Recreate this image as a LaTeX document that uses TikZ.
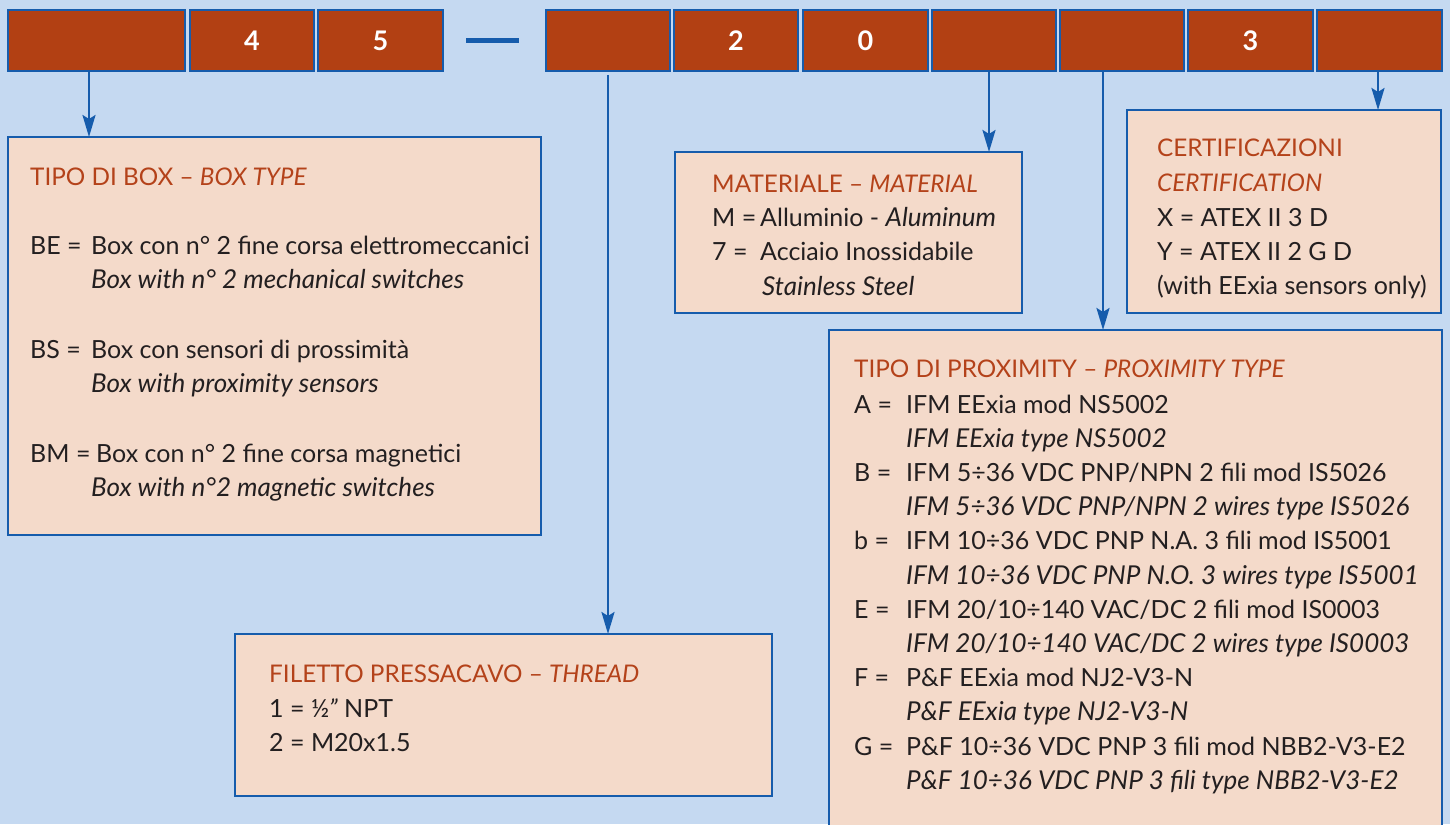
\documentclass[tikz,border=0pt]{standalone}
\usepackage{fontspec}
\setmainfont{Lato}
\usetikzlibrary{arrows.meta}
\definecolor{bg}{RGB}{197,217,241}
\definecolor{rust}{RGB}{178,64,19}
\definecolor{bord}{RGB}{22,92,172}
\definecolor{peach}{RGB}{244,218,202}
\definecolor{ttlc}{RGB}{180,66,26}
\definecolor{ink}{RGB}{35,31,32}
\begin{document}
\begin{tikzpicture}[x=1pt,y=-1pt,
  codebox/.style={draw=bord,line width=2.8pt,fill=rust,outer sep=0pt,inner sep=0pt,minimum height=61pt,anchor=north west,text=white,font=\fontsize{27}{27}\selectfont\bfseries},
  panel/.style={draw=bord,line width=2.6pt,fill=peach,outer sep=0pt,inner sep=0pt,anchor=north west},
  ttl/.style={anchor=base west,inner sep=0pt,text=ttlc,font=\fontsize{24.3}{25}\selectfont},
  txt/.style={anchor=base west,inner sep=0pt,text=ink,font=\fontsize{25}{25}\selectfont},
  itx/.style={anchor=base west,inner sep=0pt,text=ink,font=\fontsize{26}{26}\selectfont\itshape},
  conn/.style={draw=bord,line width=2.5pt,-{Stealth[length=22pt,width=13pt,inset=4pt]}}
]
\clip (0,0) rectangle (1450,824);
\fill[bg] (0,0) rectangle (1450,824);
% code boxes
\node[codebox,minimum width=177pt] (c1) at (8,10) {};
\node[codebox,minimum width=124pt] (c2) at (190,10) {4};
\node[codebox,minimum width=125pt] (c3) at (318,10) {5};
\node[codebox,minimum width=124pt] (c4) at (546,10) {};
\node[codebox,minimum width=124pt] (c5) at (674,10) {2};
\node[codebox,minimum width=125pt] (c6) at (803,10) {0};
\node[codebox,minimum width=124pt] (c7) at (932,10) {};
\node[codebox,minimum width=124pt] (c8) at (1060,10) {};
\node[codebox,minimum width=125pt] (c9) at (1188,10) {3};
\node[codebox,minimum width=125pt] (c10) at (1317,10) {};
\coordinate (d1) at (466,40.5);
\coordinate (d2) at (519,40.5);
\draw[bord,line width=5pt] (d1) -- (d2);
% panels
\node[panel,minimum width=533pt,minimum height=398pt] (boxtype) at (8,137) {};
\node[panel,minimum width=347pt,minimum height=161pt] (material) at (675,152) {};
\node[panel,minimum width=314pt,minimum height=203pt] (cert) at (1127,110) {};
\node[panel,minimum width=537pt,minimum height=162pt] (thread) at (235,634) {};
\node[panel,minimum width=613pt,minimum height=520pt] (prox) at (829,330) {};
% connectors
\draw[conn] ([xshift=-7.5pt]c1.south) -- ([xshift=-7.5pt]c1.south |- boxtype.north);
\draw[conn] ([yshift=-4pt]c4.south) -- (c4.south |- thread.north);
\draw[conn] ([xshift=-5pt]c7.south) -- ([xshift=-5pt]c7.south |- material.north);
\draw[conn] ([xshift=-19pt]c8.south) -- ([xshift=-19pt]c8.south |- prox.north);
\draw[conn] ([xshift=-1.5pt]c10.south) -- ([xshift=-1.5pt]c10.south |- cert.north);
% box type
\node[ttl] (bt0) at (30,185) {TIPO DI BOX – \textit{BOX TYPE}};
\node[txt] (bt1a) at (30,254) {BE =};
\node[txt] (bt1b) at (91,254) {Box con n° 2 fine corsa elettromeccanici};
\node[itx] (bt1c) at (91,288) {Box with n° 2 mechanical switches};
\node[txt] (bt2a) at (30,358) {BS =};
\node[txt] (bt2b) at (91,358) {Box con sensori di prossimità};
\node[itx] (bt2c) at (91,392) {Box with proximity sensors};
\node[txt] (bt3a) at (30,462) {BM =};
\node[txt] (bt3b) at (96,462) {Box con n° 2 fine corsa magnetici};
\node[itx] (bt3c) at (91,496) {Box with n°2 magnetic switches};
% material
\node[ttl] (m0) at (712,192) {MATERIALE – \textit{MATERIAL}};
\node[txt] (m1a) at (712,226) {M =};
\node[txt] (m1b) at (760,226) {Alluminio - {\fontsize{26}{26}\selectfont\itshape Aluminum}};
\node[txt] (m2a) at (712,260) {7 =};
\node[txt] (m2b) at (760,260) {Acciaio Inossidabile};
\node[itx] (m2c) at (762,295) {Stainless Steel};
% certification
\node[ttl] (ce0) at (1157,156) {CERTIFICAZIONI};
\node[ttl,font=\fontsize{24.3}{25}\selectfont\itshape] (ce1) at (1157,191) {CERTIFICATION};
\node[txt] (ce2) at (1157,226) {X = ATEX II 3 D};
\node[txt] (ce3) at (1157,260) {Y = ATEX II 2 G D};
\node[txt] (ce4) at (1157,294) {(with EExia sensors only)};
% thread
\node[ttl] (t0) at (269,682) {FILETTO PRESSACAVO – \textit{THREAD}};
\node[txt] (t1) at (269,717) {1 = ½{\itshape"} NPT};
\node[txt] (t2) at (269,751) {2 = M20x1.5};
% proximity
\node[ttl] (p0) at (854,377) {TIPO DI PROXIMITY – \textit{PROXIMITY TYPE}};
\node[txt] (pa) at (854,413) {A =};
\node[txt] (pa1) at (906,413) {IFM EExia mod NS5002};
\node[itx] (pa2) at (906,447.2) {IFM EExia type NS5002};
\node[txt] (pb) at (854,481.4) {B =};
\node[txt] (pb1) at (906,481.4) {IFM 5÷36 VDC PNP/NPN 2 fili mod IS5026};
\node[itx] (pb2) at (906,515.6) {IFM 5÷36 VDC PNP/NPN 2 wires type IS5026};
\node[txt] (pc) at (854,549.8) {b =};
\node[txt] (pc1) at (906,549.8) {IFM 10÷36 VDC PNP N.A. 3 fili mod IS5001};
\node[itx] (pc2) at (906,584) {IFM 10÷36 VDC PNP N.O. 3 wires type IS5001};
\node[txt] (pe) at (854,618.2) {E =};
\node[txt] (pe1) at (906,618.2) {IFM 20/10÷140 VAC/DC 2 fili mod IS0003};
\node[itx] (pe2) at (906,652.4) {IFM 20/10÷140 VAC/DC 2 wires type IS0003};
\node[txt] (pf) at (854,686.6) {F =};
\node[txt] (pf1) at (906,686.6) {P\&F EExia mod NJ2-V3-N};
\node[itx] (pf2) at (906,720.8) {P\&F EExia type NJ2-V3-N};
\node[txt] (pg) at (854,755) {G =};
\node[txt] (pg1) at (906,755) {P\&F 10÷36 VDC PNP 3 fili mod NBB2-V3-E2};
\node[itx] (pg2) at (906,789.2) {P\&F 10÷36 VDC PNP 3 fili type NBB2-V3-E2};
\end{tikzpicture}
\end{document}
